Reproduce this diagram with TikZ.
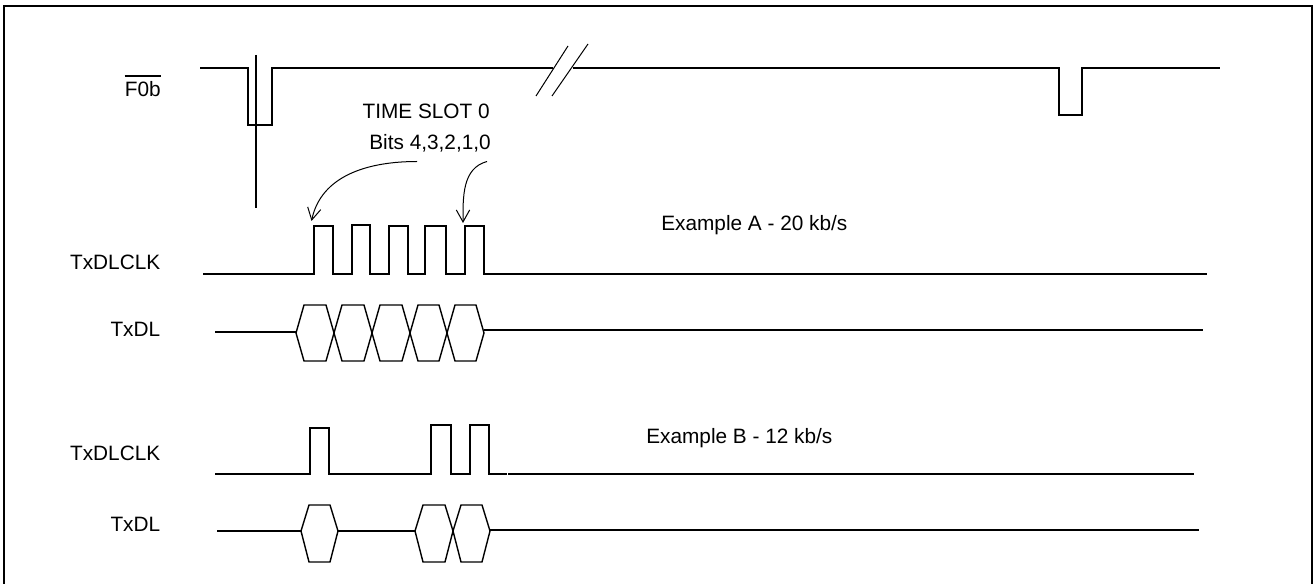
\documentclass[tikz,border=0pt]{standalone}
\usepackage{fontspec}
\setmainfont{Liberation Sans}
\usetikzlibrary{arrows.meta}

\begin{document}
\begin{tikzpicture}[x=0.75pt,y=-0.75pt,
  wave/.style={line width=1.4pt,line join=miter},
  bus/.style={line width=1.05pt,line join=miter},
  frame/.style={line width=1.5pt},
  thinline/.style={line width=0.75pt},
  pointer/.style={line width=0.75pt,-{Straight Barb[length=9pt,width=10pt]}},
  sig/.style={font=\fontsize{15.6}{18}\selectfont,anchor=base east,inner sep=0pt},
  note/.style={font=\fontsize{15.6}{18}\selectfont,anchor=base west,inner sep=0pt}]

  \useasboundingbox (0,0) rectangle (1314,584);

  % outer frame, open at the bottom
  \draw[frame] (4,584) -- (4,6) -- (1312,6) -- (1312,584);

  % signal names
  \node[sig] (f0b) at (161,97) {F0b};
  \draw[wave] ([yshift=4pt]f0b.north west) -- ([yshift=4pt]f0b.north east);
  \node[sig] (clka) at (160.5,270) {TxDLCLK};
  \node[sig] (dla) at (160.5,337) {TxDL};
  \node[sig] (clkb) at (160.5,460) {TxDLCLK};
  \node[sig] (dlb) at (160.5,532) {TxDL};

  % frame pulse
  \draw[wave] (200,68) -- (248,68) -- (248,125) -- (272,125) -- (272,68) -- (553,68);
  \draw[wave] (573,68) -- (1059,68) -- (1059,115) -- (1082,115) -- (1082,68) -- (1220,68);
  \draw[wave] (256,55) -- (256,208);
  \draw[thinline] (536,96) -- (568,46);
  \draw[thinline] (552,96) -- (588,44);

  % time slot text and pointers
  \node[sig] (slot) at (490,118.5) {TIME SLOT 0};
  \node[sig] (bits) at (491,149.5) {Bits 4,3,2,1,0};
  \coordinate (firstbit) at (311.5,221);
  \coordinate (lastbit) at (463,223);
  \draw[pointer] (417,161.5) to[out=180,in=78] (firstbit);
  \draw[pointer] (487,161.5) to[out=195,in=90] (lastbit);

  % example A
  \node[note] (exa) at (661,231) {Example A - 20 kb/s};
  \draw[wave] (203,274) -- (314,274) -- (314,226) -- (333,226) -- (333,274)
    -- (352,274) -- (352,225) -- (370,225) -- (370,274)
    -- (389,274) -- (389,226) -- (408,226) -- (408,274)
    -- (425,274) -- (425,226) -- (446,226) -- (446,274)
    -- (465,274) -- (465,226) -- (484,226) -- (484,274) -- (1207,274);
  \draw[wave] (215,332) -- (296,332);
  \foreach \xa/\xb in {296/334,334/372,372/410,410/447,447/484}
    \draw[bus] (\xa,333) -- (\xa+8,305) -- (\xb-8,305) -- (\xb,333)
      -- (\xb-8,361) -- (\xa+8,361) -- cycle;
  \draw[wave] (484,330) -- (1203,330);

  % example B
  \node[note] (exb) at (646,443.5) {Example B - 12 kb/s};
  \draw[wave] (215,474) -- (310,474) -- (310,428) -- (329,428) -- (329,474)
    -- (431,474) -- (431,425) -- (451,425) -- (451,474)
    -- (470,474) -- (470,425) -- (489,425) -- (489,474) -- (507,474);
  \draw[wave] (508,474) -- (1194,474);
  \draw[wave] (217,531) -- (301,531);
  \draw[wave] (338,531) -- (415,531);
  \foreach \xa/\xb in {301/338,415/453,453/490}
    \draw[bus] (\xa,531) -- (\xa+8,505) -- (\xb-8,505) -- (\xb,531)
      -- (\xb-8,562) -- (\xa+8,562) -- cycle;
  \draw[wave] (490,530) -- (1199,530);

\end{tikzpicture}
\end{document}
